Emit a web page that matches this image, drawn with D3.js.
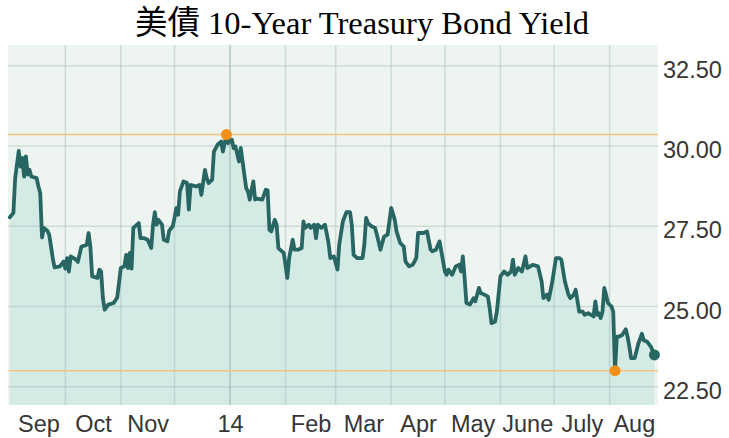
<!DOCTYPE html>
<html>
<head>
<meta charset="utf-8">
<script src="https://cdn.jsdelivr.net/npm/d3@7"></script>
<style>
  body { margin: 0; background: #fff; }
  svg { display: block; }
</style>
</head>
<body>
<svg id="chart"></svg>
<script>
// Chart text and axis values
const chartTitle = "美債 10-Year Treasury Bond Yield";
const yTicks = [22.5, 25, 27.5, 30, 32.5];
const yDomain = [21.93, 33.15];
const xDomain = ["2013-08-30", "2014-08-28"];

// Month bands (gridline at each start, name centred in the band)
const monthStarts = ["2013-09-01", "2013-10-01", "2013-11-01", "2013-12-01", "2014-01-01", "2014-02-01",
  "2014-03-01", "2014-04-01", "2014-05-01", "2014-06-01", "2014-07-01", "2014-08-01"];
const monthNames = ["Sep", "Oct", "Nov", "", "", "Feb", "Mar", "Apr", "May", "June", "July", "Aug"];
const yearTickDates = ["2014-01-01"];
const yearTickLabels = ["14"];

// Yield readings (date, value x10)
const series = [
  ["2013-08-31", 27.78], ["2013-09-02", 27.91], ["2013-09-03", 29.00], ["2013-09-05", 29.85],
  ["2013-09-06", 29.36], ["2013-09-07", 29.63], ["2013-09-08", 29.05], ["2013-09-09", 29.68],
  ["2013-09-10", 29.11], ["2013-09-11", 29.26], ["2013-09-12", 29.05], ["2013-09-15", 29.00],
  ["2013-09-16", 28.74], ["2013-09-17", 28.54], ["2013-09-18", 27.15], ["2013-09-19", 27.45],
  ["2013-09-21", 27.36], ["2013-09-22", 27.24], ["2013-09-24", 26.51], ["2013-09-25", 26.22],
  ["2013-09-28", 26.25], ["2013-09-30", 26.40], ["2013-10-01", 26.18], ["2013-10-02", 26.51],
  ["2013-10-03", 26.09], ["2013-10-04", 26.56], ["2013-10-07", 26.46], ["2013-10-08", 26.39],
  ["2013-10-10", 26.87], ["2013-10-12", 26.90], ["2013-10-13", 26.93], ["2013-10-14", 27.29],
  ["2013-10-15", 26.87], ["2013-10-16", 25.94], ["2013-10-19", 25.89], ["2013-10-20", 26.15],
  ["2013-10-21", 26.09], ["2013-10-22", 25.26], ["2013-10-23", 24.90], ["2013-10-25", 25.06],
  ["2013-10-28", 25.11], ["2013-10-30", 25.28], ["2013-11-01", 26.20], ["2013-11-03", 26.25],
  ["2013-11-04", 26.61], ["2013-11-05", 26.20], ["2013-11-06", 26.67], ["2013-11-07", 26.18],
  ["2013-11-08", 27.45], ["2013-11-11", 27.60], ["2013-11-12", 27.13], ["2013-11-14", 27.13],
  ["2013-11-16", 27.08], ["2013-11-18", 26.82], ["2013-11-19", 27.55], ["2013-11-20", 27.94],
  ["2013-11-21", 27.55], ["2013-11-22", 27.70], ["2013-11-24", 27.55], ["2013-11-25", 27.08],
  ["2013-11-27", 27.03], ["2013-11-28", 27.36], ["2013-11-30", 27.50], ["2013-12-01", 27.76],
  ["2013-12-02", 28.07], ["2013-12-03", 27.86], ["2013-12-04", 28.59], ["2013-12-06", 28.90],
  ["2013-12-08", 28.85], ["2013-12-09", 28.02], ["2013-12-10", 28.79], ["2013-12-13", 28.74],
  ["2013-12-15", 28.79], ["2013-12-16", 28.48], ["2013-12-18", 29.26], ["2013-12-19", 29.00],
  ["2013-12-20", 28.85], ["2013-12-22", 28.95], ["2013-12-23", 29.83], ["2013-12-25", 30.04],
  ["2013-12-27", 30.14], ["2013-12-28", 29.83], ["2013-12-30", 30.36], ["2013-12-31", 30.09],
  ["2014-01-02", 30.20], ["2014-01-03", 29.94], ["2014-01-04", 29.99], ["2014-01-06", 29.52],
  ["2014-01-07", 29.94], ["2014-01-08", 29.52], ["2014-01-10", 28.69], ["2014-01-11", 28.59],
  ["2014-01-12", 28.33], ["2014-01-14", 28.90], ["2014-01-15", 28.33], ["2014-01-16", 28.36],
  ["2014-01-19", 28.33], ["2014-01-21", 28.64], ["2014-01-22", 28.62], ["2014-01-23", 27.39],
  ["2014-01-24", 27.34], ["2014-01-26", 27.70], ["2014-01-27", 27.55], ["2014-01-28", 26.82],
  ["2014-01-30", 26.72], ["2014-01-31", 26.67], ["2014-02-02", 25.89], ["2014-02-03", 26.51],
  ["2014-02-05", 27.08], ["2014-02-06", 26.77], ["2014-02-08", 26.77], ["2014-02-10", 26.82],
  ["2014-02-11", 27.65], ["2014-02-12", 27.45], ["2014-02-14", 27.55], ["2014-02-15", 27.45],
  ["2014-02-17", 27.55], ["2014-02-18", 27.13], ["2014-02-19", 27.55], ["2014-02-21", 27.45],
  ["2014-02-23", 27.55], ["2014-02-25", 26.98], ["2014-02-26", 26.51], ["2014-02-28", 26.56],
  ["2014-03-02", 26.15], ["2014-03-03", 26.93], ["2014-03-05", 27.65], ["2014-03-07", 27.94],
  ["2014-03-09", 27.94], ["2014-03-10", 27.55], ["2014-03-11", 26.61], ["2014-03-13", 26.51],
  ["2014-03-16", 26.51], ["2014-03-17", 26.93], ["2014-03-18", 27.76], ["2014-03-19", 27.60],
  ["2014-03-21", 27.50], ["2014-03-23", 27.45], ["2014-03-24", 27.24], ["2014-03-26", 26.77],
  ["2014-03-28", 27.18], ["2014-03-30", 27.24], ["2014-04-01", 28.07], ["2014-04-03", 27.70],
  ["2014-04-04", 27.34], ["2014-04-06", 26.98], ["2014-04-08", 26.87], ["2014-04-09", 26.40],
  ["2014-04-11", 26.25], ["2014-04-13", 26.30], ["2014-04-15", 26.51], ["2014-04-16", 27.29],
  ["2014-04-19", 27.29], ["2014-04-21", 27.34], ["2014-04-23", 26.77], ["2014-04-24", 26.72],
  ["2014-04-26", 26.77], ["2014-04-28", 27.03], ["2014-04-29", 26.72], ["2014-05-01", 26.09],
  ["2014-05-02", 25.99], ["2014-05-03", 26.15], ["2014-05-05", 25.99], ["2014-05-07", 26.25],
  ["2014-05-09", 26.30], ["2014-05-10", 26.09], ["2014-05-11", 26.56], ["2014-05-12", 25.89],
  ["2014-05-13", 25.11], ["2014-05-15", 25.06], ["2014-05-17", 25.26], ["2014-05-18", 25.16],
  ["2014-05-20", 25.58], ["2014-05-21", 25.42], ["2014-05-23", 25.37], ["2014-05-25", 25.31],
  ["2014-05-26", 24.95], ["2014-05-27", 24.48], ["2014-05-29", 24.53], ["2014-05-30", 24.84],
  ["2014-06-01", 25.94], ["2014-06-03", 26.09], ["2014-06-05", 25.99], ["2014-06-07", 26.09],
  ["2014-06-08", 26.46], ["2014-06-09", 25.99], ["2014-06-11", 26.20], ["2014-06-13", 26.09],
  ["2014-06-15", 26.56], ["2014-06-16", 26.20], ["2014-06-19", 26.30], ["2014-06-22", 26.25],
  ["2014-06-24", 25.78], ["2014-06-25", 25.26], ["2014-06-27", 25.37], ["2014-06-28", 25.21],
  ["2014-06-30", 25.78], ["2014-07-02", 26.51], ["2014-07-04", 26.51], ["2014-07-05", 26.46],
  ["2014-07-07", 25.78], ["2014-07-09", 25.37], ["2014-07-10", 25.26], ["2014-07-12", 25.37],
  ["2014-07-13", 25.52], ["2014-07-15", 24.84], ["2014-07-17", 24.84], ["2014-07-18", 24.74],
  ["2014-07-20", 24.79], ["2014-07-23", 24.69], ["2014-07-24", 25.16], ["2014-07-25", 24.74],
  ["2014-07-26", 24.79], ["2014-07-27", 24.64], ["2014-07-28", 24.84], ["2014-07-29", 25.58],
  ["2014-07-30", 25.37], ["2014-07-31", 25.11], ["2014-08-02", 25.00], ["2014-08-03", 24.84],
  ["2014-08-04", 23.00], ["2014-08-05", 24.06], ["2014-08-06", 24.06], ["2014-08-08", 24.11],
  ["2014-08-10", 24.29], ["2014-08-11", 24.06], ["2014-08-12", 23.75], ["2014-08-13", 23.39],
  ["2014-08-15", 23.39], ["2014-08-17", 23.84], ["2014-08-19", 24.15], ["2014-08-20", 23.95],
  ["2014-08-22", 23.90], ["2014-08-24", 23.75], ["2014-08-26", 23.49]
];

const width = 729, height = 438;
const plot = {left: 8, right: 658, top: 45, bottom: 405};
const labelFont = "'Liberation Sans', Arial, sans-serif";

const parseDate = d3.timeParse("%Y-%m-%d");
const data = series.map(([d, v]) => ({date: parseDate(d), value: v}));

const svg = d3.select("#chart")
  .attr("width", width)
  .attr("height", height);

// Scales
const x = d3.scaleTime()
  .domain(xDomain.map(parseDate))
  .range([plot.left, plot.right]);
const y = d3.scaleLinear()
  .domain(yDomain)
  .range([plot.bottom, plot.top]);

// Title
svg.append("text")
  .attr("x", 362)
  .attr("y", 34)
  .attr("text-anchor", "middle")
  .style("font-family", "'Liberation Serif', 'Times New Roman', 'Noto Sans CJK TC', serif")
  .style("font-size", "32.5px")
  .style("fill", "#000")
  .text(chartTitle);

// Plot background
svg.append("rect")
  .attr("x", plot.left)
  .attr("y", plot.top)
  .attr("width", plot.right - plot.left)
  .attr("height", plot.bottom - plot.top)
  .attr("fill", "#eef5f1");

// Area under the line
const area = d3.area()
  .x(d => x(d.date))
  .y0(plot.bottom)
  .y1(d => y(d.value));

svg.append("path")
  .datum(data)
  .attr("d", area)
  .attr("fill", "#d4eae5");

// Gridlines
const grid = svg.append("g").attr("class", "grid");
grid.selectAll(".hgrid")
  .data(yTicks)
  .enter().append("line")
  .attr("x1", plot.left)
  .attr("x2", plot.right)
  .attr("y1", d => y(d))
  .attr("y2", d => y(d))
  .attr("stroke", "#9db7b3")
  .attr("stroke-opacity", 0.4)
  .attr("stroke-width", 1.5);

grid.selectAll(".vgrid")
  .data(monthStarts.slice(1).map(parseDate))
  .enter().append("line")
  .attr("x1", d => x(d))
  .attr("x2", d => x(d))
  .attr("y1", plot.top)
  .attr("y2", plot.bottom)
  .attr("stroke", "#9db7b3")
  .attr("stroke-opacity", d => d.getMonth() === 0 ? 0.75 : 0.4)
  .attr("stroke-width", 1.5);

// High / low reference lines
const maxPoint = data.reduce((a, b) => b.value > a.value ? b : a);
const minPoint = data.reduce((a, b) => b.value < a.value ? b : a);
const lastPoint = data[data.length - 1];

svg.selectAll(".ref")
  .data([maxPoint, minPoint])
  .enter().append("line")
  .attr("x1", plot.left)
  .attr("x2", plot.right)
  .attr("y1", d => y(d.value))
  .attr("y2", d => y(d.value))
  .attr("stroke", "#f6c386")
  .attr("stroke-width", 1.5);

// Yield line
const line = d3.line()
  .x(d => x(d.date))
  .y(d => y(d.value));

svg.append("path")
  .datum(data)
  .attr("d", line)
  .attr("fill", "none")
  .attr("stroke", "#286664")
  .attr("stroke-width", 3.8)
  .attr("stroke-linejoin", "round")
  .attr("stroke-linecap", "round");

// Markers
svg.selectAll(".extreme")
  .data([maxPoint, minPoint])
  .enter().append("circle")
  .attr("cx", d => x(d.date))
  .attr("cy", d => y(d.value))
  .attr("r", 5.5)
  .attr("fill", "#f39019");

svg.append("circle")
  .attr("cx", x(lastPoint.date))
  .attr("cy", y(lastPoint.value))
  .attr("r", 5.5)
  .attr("fill", "#286664");

// Y axis on the right
const yAxis = d3.axisRight(y)
  .tickValues(yTicks)
  .tickFormat(d3.format(".2f"))
  .tickSize(0)
  .tickPadding(0);

svg.append("g")
  .attr("transform", `translate(${plot.right + 5},0)`)
  .call(yAxis)
  .call(g => g.select(".domain").remove())
  .selectAll("text")
  .attr("dy", "0.49em")
  .style("font-family", labelFont)
  .style("font-size", "23.5px")
  .style("fill", "#363636");

// X axis: month names centred in their band, year at its first day
const domainEnd = x.domain()[1];
const domainStart = x.domain()[0];
const xTicks = [];
monthStarts.forEach((m, i) => {
  if (!monthNames[i]) return;
  const start = parseDate(m);
  const next = i + 1 < monthStarts.length ? parseDate(monthStarts[i + 1]) : domainEnd;
  const a = Math.max(start, domainStart), b = Math.min(next, domainEnd);
  xTicks.push({date: new Date((a + b) / 2), label: monthNames[i]});
});
yearTickDates.forEach((d, i) => xTicks.push({date: parseDate(d), label: yearTickLabels[i]}));
xTicks.sort((a, b) => a.date - b.date);

const xAxis = d3.axisBottom(x)
  .tickValues(xTicks.map(t => t.date))
  .tickFormat((d, i) => xTicks[i].label)
  .tickSize(0);

svg.append("g")
  .attr("transform", `translate(0,${plot.bottom})`)
  .call(xAxis)
  .call(g => g.select(".domain").remove())
  .selectAll("text")
  .attr("y", 27)
  .attr("dy", null)
  .style("font-family", labelFont)
  .style("font-size", "23.5px")
  .style("fill", "#363636");
</script>
</body>
</html>
